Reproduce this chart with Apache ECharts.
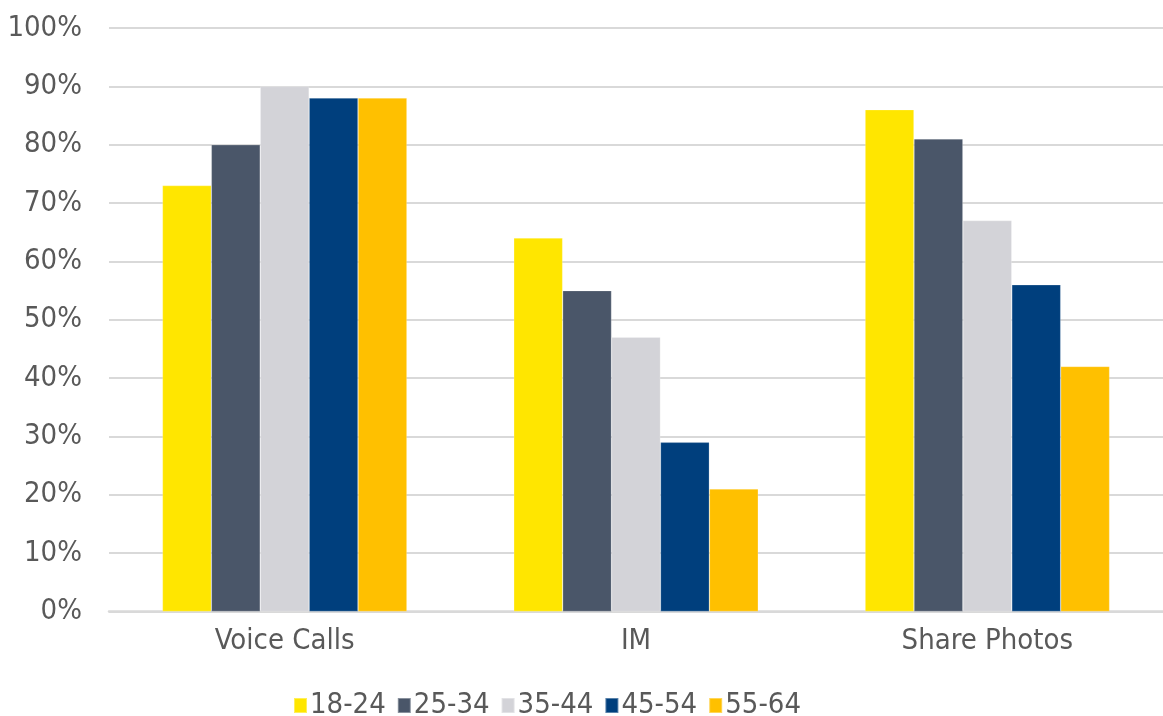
<!DOCTYPE html>
<html>
<head>
<meta charset="utf-8">
<script src="https://cdn.jsdelivr.net/npm/echarts@6/dist/echarts.min.js"></script>
<style>
  html, body { margin: 0; padding: 0; background: #ffffff; }
  #chart { width: 1163px; height: 716px; }
</style>
</head>
<body>
<div id="chart"></div>
<script>
// Activities by age group (percent of respondents)
const categories = ['Voice Calls', 'IM', 'Share Photos'];
const ageGroups = ['18-24', '25-34', '35-44', '45-54', '55-64'];
const age18_24 = [73, 64, 86];
const age25_34 = [80, 55, 81];
const age35_44 = [90, 47, 67];
const age45_54 = [88, 29, 56];
const age55_64 = [88, 21, 42];
const yTicks = { min: 0, max: 100, interval: 10 };

const seriesValues = [age18_24, age25_34, age35_44, age45_54, age55_64];
const colors = ['#FFE600', '#4A5669', '#D3D3D8', '#003F7D', '#FFC000'];

const fontFamily = '"DejaVu Sans Condensed", "Liberation Sans Narrow", sans-serif';
const textColor = '#595959';

const chart = echarts.init(document.getElementById('chart'), null, { renderer: 'canvas' });

chart.setOption({
  backgroundColor: '#ffffff',
  animation: false,
  grid: { left: 109, right: 0, top: 28, bottom: 104.5, containLabel: false },
  xAxis: {
    type: 'category',
    data: categories,
    axisLine: { show: true, lineStyle: { color: '#D9D9D9', width: 2.5 } },
    axisTick: { show: false },
    axisLabel: { color: textColor, fontFamily, fontSize: 29, margin: 15 }
  },
  yAxis: {
    type: 'value',
    min: yTicks.min,
    max: yTicks.max,
    interval: yTicks.interval,
    axisLine: { show: false },
    axisTick: { show: false },
    splitLine: { lineStyle: { color: '#D9D9D9', width: 2 } },
    axisLabel: { color: textColor, fontFamily, fontSize: 29, margin: 27, formatter: '{value}%' }
  },
  legend: {
    data: ageGroups,
    top: 691,
    left: 293,
    padding: 0,
    icon: 'rect',
    itemWidth: 13,
    itemHeight: 15,
    itemGap: 11,
    textStyle: { color: textColor, fontFamily, fontSize: 29, padding: [0, 0, 0, -2] }
  },
  series: ageGroups.map((name, i) => ({
    name,
    type: 'bar',
    data: seriesValues[i],
    barGap: '0%',
    barCategoryGap: '30.4%',
    itemStyle: { color: colors[i], borderColor: 'rgba(255,255,255,0.35)', borderWidth: 0.6 }
  }))
});
</script>
</body>
</html>
